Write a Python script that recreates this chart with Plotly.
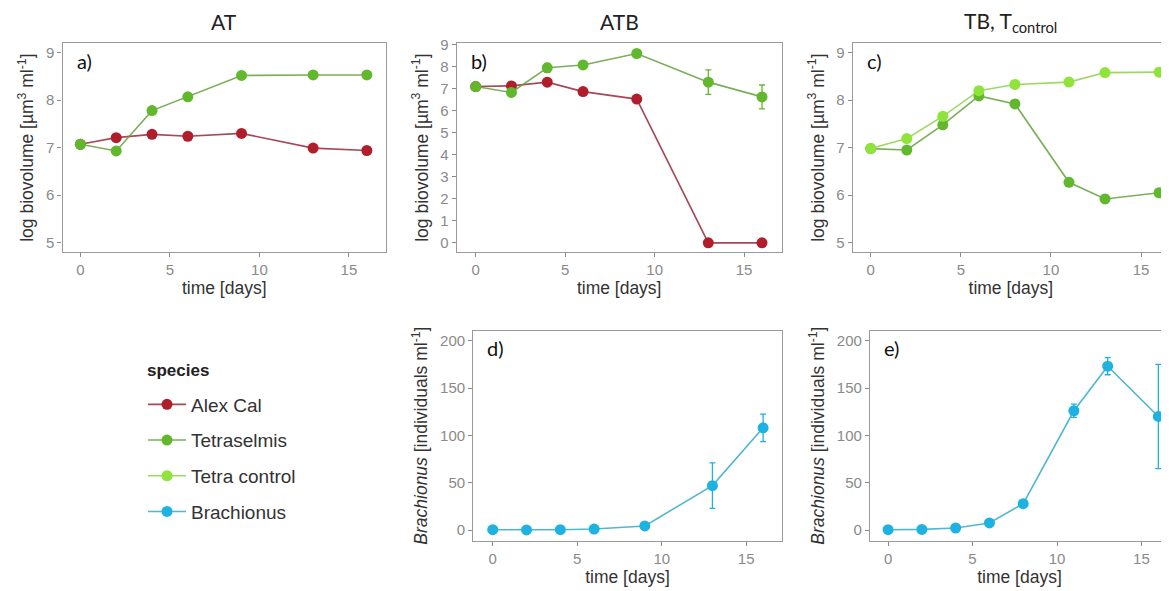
import plotly.graph_objects as go

# ---------------- data ----------------
time_ab = [0, 2, 4, 6, 9, 13, 16]
time_c = [0, 2, 4, 6, 8, 11, 13, 16]

a_alex = [7.07, 7.21, 7.28, 7.24, 7.30, 6.99, 6.94]
a_alex_err = [0.03, 0.03, 0.04, 0.03, 0.03, 0.07, 0.08]
a_tetra = [7.07, 6.93, 7.78, 8.07, 8.52, 8.53, 8.53]
a_tetra_err = [0.03, 0.04, 0.05, 0.04, 0.03, 0.03, 0.03]

b_alex = [7.10, 7.13, 7.30, 6.87, 6.53, 0.0, 0.0]
b_alex_err = [0.05, 0.05, 0.08, 0.08, 0.05, 0.0, 0.0]
b_tetra = [7.10, 6.83, 7.95, 8.08, 8.60, 7.30, 6.63]
b_tetra_err = [0.05, 0.08, 0.20, 0.08, 0.06, 0.56, 0.54]

c_tetra = [6.98, 6.95, 7.48, 8.09, 7.92, 6.27, 5.92, 6.05]
c_tetra_err = [0.03, 0.05, 0.06, 0.06, 0.05, 0.08, 0.08, 0.04]
c_control = [6.98, 7.19, 7.66, 8.20, 8.33, 8.38, 8.58, 8.59]
c_control_err = [0.03, 0.04, 0.06, 0.06, 0.04, 0.04, 0.03, 0.03]

d_brach = [0.5, 0.3, 0.5, 1.2, 4.5, 47, 108]
d_brach_err = [0.3, 0.3, 0.3, 0.5, 1.0, 24, 14.5]
e_brach = [0.5, 0.8, 2.3, 7.6, 28, 126, 173, 120]
e_brach_err = [0.3, 0.3, 0.5, 1.0, 2.0, 7, 9, 55]

species = ["Alex Cal", "Tetraselmis", "Tetra control", "Brachionus"]
panel_titles = ["AT", "ATB", "TB, T<sub>control</sub>"]
panel_labels = ["a)", "b)", "c)", "d)", "e)"]

# ---------------- style ----------------
COL = {
    "Alex Cal": ("#B01E2C", "rgba(150,40,55,0.85)"),
    "Tetraselmis": ("#62B82C", "rgba(100,160,60,0.85)"),
    "Tetra control": ("#8FE33A", "rgba(140,210,70,0.85)"),
    "Brachionus": ("#1EB2E2", "rgba(50,170,200,0.85)"),
}
RANK = {s: i for i, s in enumerate(species)}
OFF = 8                      # page body margin of the browser
WIN_W, WIN_H = 1169, 591
W, H = WIN_W - OFF, WIN_H - OFF


def fx(xp):                  # window pixel -> paper fraction
    return (xp - OFF) / W


def fy(yp):
    return 1 - (yp - OFF) / H


TICK_FONT = dict(family="Liberation Sans, Arial", size=15, color="#8a8a8a")
TITLE_FONT = dict(family="Liberation Sans, Arial", size=17.5, color="#333333")

fig = go.Figure()
shown = set()


def add(x, y, err, name, ax):
    mc, lc = COL[name]
    show = name not in shown
    shown.add(name)
    fig.add_trace(go.Scatter(
        x=x, y=y, mode="lines+markers", name=name,
        legendgroup=name, showlegend=show, legendrank=RANK[name],
        line=dict(color=lc, width=1.6),
        marker=dict(color=mc, size=11),
        error_y=dict(type="data", array=err, visible=True, color=mc,
                     thickness=1.3, width=3),
        xaxis="x" + ("" if ax == 1 else str(ax)),
        yaxis="y" + ("" if ax == 1 else str(ax)),
        cliponaxis=False,
    ))


add(time_ab, a_alex, a_alex_err, "Alex Cal", 1)
add(time_ab, a_tetra, a_tetra_err, "Tetraselmis", 1)
add(time_ab, b_alex, b_alex_err, "Alex Cal", 2)
add(time_ab, b_tetra, b_tetra_err, "Tetraselmis", 2)
add(time_c, c_tetra, c_tetra_err, "Tetraselmis", 3)
add(time_c, c_control, c_control_err, "Tetra control", 3)
add(time_ab, d_brach, d_brach_err, "Brachionus", 4)
add(time_c, e_brach, e_brach_err, "Brachionus", 5)

# panel geometry (window pixels)
px = {
    1: (62.5, 386.0, 36.5, 248.0),
    2: (456.7, 781.7, 36.5, 248.0),
    3: (852.7, 1169.0, 36.5, 248.0),
    4: (473.3, 781.7, 327.5, 540.0),
    5: (870.0, 1169.0, 327.5, 540.0),
}
xr = {1: [-1.0, 17.07], 2: [-1.06, 17.1], 3: [-1.0, 16.55],
      4: [-1.15, 17.1], 5: [-1.07, 16.63]}
yr = {1: [4.8, 9.2], 2: [-0.42, 9.07], 3: [4.8, 9.2],
      4: [-11, 210.5], 5: [-11, 210.5]}
ytv = {1: [5, 6, 7, 8, 9], 2: list(range(10)), 3: [5, 6, 7, 8, 9],
       4: [0, 50, 100, 150, 200], 5: [0, 50, 100, 150, 200]}
ytitle_bio = "log biovolume [µm<sup>3</sup> ml<sup>-1</sup>]"
ytitle_br = "<i>Brachionus</i> [individuals ml<sup>-1</sup>]"

layout = {}
for i in range(1, 6):
    l, r, t, b = px[i]
    sfx = "" if i == 1 else str(i)
    right_cut = i in (3, 5)
    layout["xaxis" + sfx] = dict(
        domain=[fx(l), min(fx(r), 1.0)], range=xr[i], anchor="y" + sfx,
        tickvals=[0, 5, 10, 15], ticks="outside", ticklen=4, tickcolor="#8a8a8a",
        tickfont=TICK_FONT, showgrid=False, zeroline=False,
        showline=True, linecolor="#9a9a9a", linewidth=1.3, mirror=True,
        title=dict(text="time [days]", font=TITLE_FONT, standoff=0),
    )
    layout["yaxis" + sfx] = dict(
        domain=[fy(b), fy(t)], range=yr[i], anchor="x" + sfx,
        tickvals=ytv[i], ticks="outside", ticklen=4, tickcolor="#8a8a8a",
        tickfont=TICK_FONT, showgrid=False, zeroline=False,
        showline=True, linecolor="#9a9a9a", linewidth=1.3,
        mirror=not right_cut,
        title=dict(text=ytitle_bio if i <= 3 else ytitle_br, font=TITLE_FONT,
                   standoff=7),
    )

annotations = []
for i, txt in enumerate(panel_titles, start=1):
    l, r, t, b = px[i]
    annotations.append(dict(
        text=txt, x=fx((l + r) / 2), y=fy(15), xref="paper", yref="paper",
        showarrow=False, xanchor="center", yanchor="middle",
        font=dict(family="Lato, Open Sans", size=21, color="#222222")))
for i, txt in enumerate(panel_labels, start=1):
    l, r, t, b = px[i]
    annotations.append(dict(
        text=txt, x=fx(l + 12), y=fy(t + 18), xref="paper", yref="paper",
        showarrow=False, xanchor="left", yanchor="middle",
        font=dict(family="Lato, Open Sans", size=20, color="#111111")))
# legend heading
annotations.append(dict(
    text="<b>species</b>", x=fx(145), y=fy(368), xref="paper", yref="paper",
    showarrow=False, xanchor="left", yanchor="middle",
    font=dict(family="Liberation Sans, Arial", size=17, color="#222222")))

fig.update_layout(
    width=W, height=H, margin=dict(l=0, r=0, t=0, b=0),
    paper_bgcolor="white", plot_bgcolor="white",
    annotations=annotations,
    legend=dict(
        x=fx(143), y=fy(383), xanchor="left", yanchor="top",
        font=dict(family="Liberation Sans, Arial", size=19, color="#333333"),
        traceorder="grouped", tracegroupgap=8, itemwidth=38,
        bgcolor="rgba(0,0,0,0)",
    ),
    **layout,
)

fig.write_html("out.html")
